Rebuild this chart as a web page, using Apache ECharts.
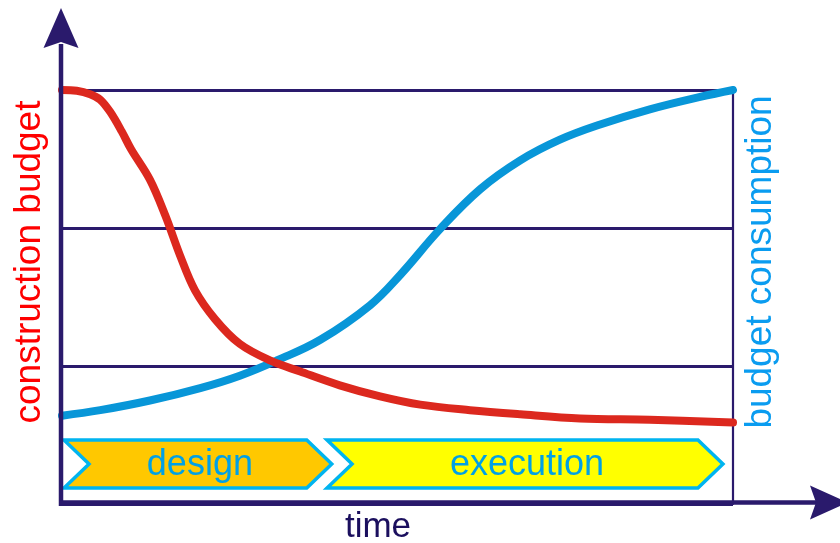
<!DOCTYPE html>
<html>
<head>
<meta charset="utf-8">
<title>Budget over time</title>
<script src="https://cdn.jsdelivr.net/npm/echarts@6/dist/echarts.min.js"></script>
<style>
  html, body { margin: 0; padding: 0; background: #ffffff; }
  #chart { width: 840px; height: 543px; }
</style>
</head>
<body>
<div id="chart"></div>
<script>
// Project time runs 0..100 across the plot; budget levels 0..3.
const budgetTime = [0, 2.2, 4.2, 5.7, 7.2, 8.9, 10.3, 13.1, 15.4, 17.6, 19.8, 22.8, 26.5, 31.0, 35.5, 41.4, 47.4, 53.4, 60.8, 68.3, 77.2, 87.6, 100];
const constructionBudget = [3.0, 2.995, 2.97, 2.93, 2.84, 2.70, 2.57, 2.35, 2.09, 1.80, 1.55, 1.34, 1.16, 1.04, 0.96, 0.86, 0.78, 0.72, 0.68, 0.65, 0.62, 0.61, 0.59];

const consumptionTime = [0, 5.7, 13.1, 20.6, 26.5, 32.0, 38.5, 45.9, 50.4, 56.3, 62.3, 68.3, 74.2, 80.2, 87.6, 95.1, 100];
const budgetConsumption = [0.64, 0.68, 0.75, 0.84, 0.93, 1.04, 1.19, 1.44, 1.66, 1.99, 2.28, 2.49, 2.64, 2.75, 2.86, 2.95, 3.0];

const phaseNames = ['design', 'execution'];
const phaseStart = [0.3, 39.5];
const phaseEnd = [40.2, 98.5];

const NAVY = '#2a1a6c';
const PHASE_FILL = { design: '#ffc800', execution: '#ffff00' };

function zip(xs, ys) { return xs.map((x, i) => [x, ys[i]]); }

const chart = echarts.init(document.getElementById('chart'), null, { renderer: 'canvas' });

const gridLeft = 62, gridRight = 107, gridTop = 90, gridBottom = 39;
const W = 840, H = 543;
const x0px = gridLeft, yZero = H - gridBottom;

// arrow head polygon pointing in direction (dx, dy) with tip at (tx, ty)
function arrowHead(tx, ty, dx, dy, len, half, notch) {
  const px = -dy, py = dx;
  const bx = tx - dx * len, by = ty - dy * len;
  return [
    [tx, ty],
    [bx + px * half, by + py * half],
    [tx - dx * (len - notch), ty - dy * (len - notch)],
    [bx - px * half, by - py * half]
  ];
}

const option = {
  animation: false,
  grid: { left: gridLeft, right: gridRight, top: gridTop, bottom: gridBottom },
  xAxis: {
    type: 'value', min: 0, max: 100,
    axisLine: { show: false }, axisTick: { show: false }, axisLabel: { show: false },
    splitLine: { show: false }
  },
  yAxis: [
    {
      type: 'value', min: 0, max: 3, interval: 1,
      axisLine: { show: false }, axisTick: { show: false }, axisLabel: { show: false },
      splitLine: { show: true, lineStyle: { color: NAVY, width: 3 } }
    },
    {
      type: 'value', min: 0, max: 3, interval: 1, position: 'right',
      axisLine: { show: true, lineStyle: { color: NAVY, width: 2.2 } },
      axisTick: { show: false }, axisLabel: { show: false }, splitLine: { show: false }
    }
  ],
  series: [
    {
      type: 'custom',
      name: 'phases',
      data: phaseNames.map((n, i) => [phaseStart[i], phaseEnd[i], n]),
      encode: { x: [0, 1] },
      z: 1,
      renderItem: function (params, api) {
        const xa = api.coord([api.value(0), 0])[0];
        const xb = api.coord([api.value(1), 0])[0];
        const yb = api.coord([0, 0])[1];
        const top = yb - 64, bottom = yb - 16, mid = (top + bottom) / 2;
        const d = 25;
        const name = phaseNames[params.dataIndex];
        return {
          type: 'group',
          children: [
            {
              type: 'polygon',
              shape: { points: [[xa, top], [xb - d, top], [xb, mid], [xb - d, bottom], [xa, bottom], [xa + d, mid]] },
              style: { fill: PHASE_FILL[name], stroke: '#00b4f0', lineWidth: 3.5, lineJoin: 'miter' }
            },
            {
              type: 'text',
              style: {
                text: name, x: (xa + xb) / 2 + 2, y: mid + 1,
                align: 'center', verticalAlign: 'middle',
                font: '36px "Liberation Sans", Arial, sans-serif', fill: '#00a0e6'
              }
            }
          ]
        };
      }
    },
    {
      type: 'line', name: 'budget consumption',
      data: zip(consumptionTime, budgetConsumption),
      smooth: 0.4, showSymbol: false, z: 3,
      lineStyle: { color: '#0896d8', width: 8, cap: 'round' }
    },
    {
      type: 'line', name: 'construction budget',
      data: zip(budgetTime, constructionBudget),
      smooth: 0.35, showSymbol: false, z: 4,
      lineStyle: { color: '#dc281e', width: 8, cap: 'round' }
    }
  ],
  graphic: [
    // vertical axis with arrow
    { type: 'line', z: 10, shape: { x1: x0px - 1, y1: yZero + 2, x2: x0px - 1, y2: 44 }, style: { stroke: NAVY, lineWidth: 4.5 } },
    { type: 'polygon', z: 10, shape: { points: arrowHead(x0px - 1, 8, 0, -1, 40, 17.5, 6) }, style: { fill: NAVY } },
    // horizontal axis with arrow
    { type: 'line', z: 10, shape: { x1: x0px - 3, y1: yZero - 1.5, x2: 818, y2: yZero - 1.5 }, style: { stroke: NAVY, lineWidth: 4.5 } },
    { type: 'polygon', z: 10, shape: { points: arrowHead(848, yZero - 1.5, 1, 0, 38, 17, 6) }, style: { fill: NAVY } },
    // axis titles
    {
      type: 'text', z: 10, x: 378, y: 527,
      style: { text: 'time', align: 'center', verticalAlign: 'middle', font: '35px "Liberation Sans", Arial, sans-serif', fill: '#1b0f5e' }
    },
    {
      type: 'text', z: 10, x: 30, y: 262, rotation: Math.PI / 2,
      style: { text: 'construction budget', align: 'center', verticalAlign: 'middle', font: '37px "Liberation Sans", Arial, sans-serif', fill: '#ff0000' }
    },
    {
      type: 'text', z: 10, x: 761, y: 262, rotation: Math.PI / 2,
      style: { text: 'budget consumption', align: 'center', verticalAlign: 'middle', font: '37px "Liberation Sans", Arial, sans-serif', fill: '#0a9cf0' }
    }
  ]
};

chart.setOption(option);
</script>
</body>
</html>
